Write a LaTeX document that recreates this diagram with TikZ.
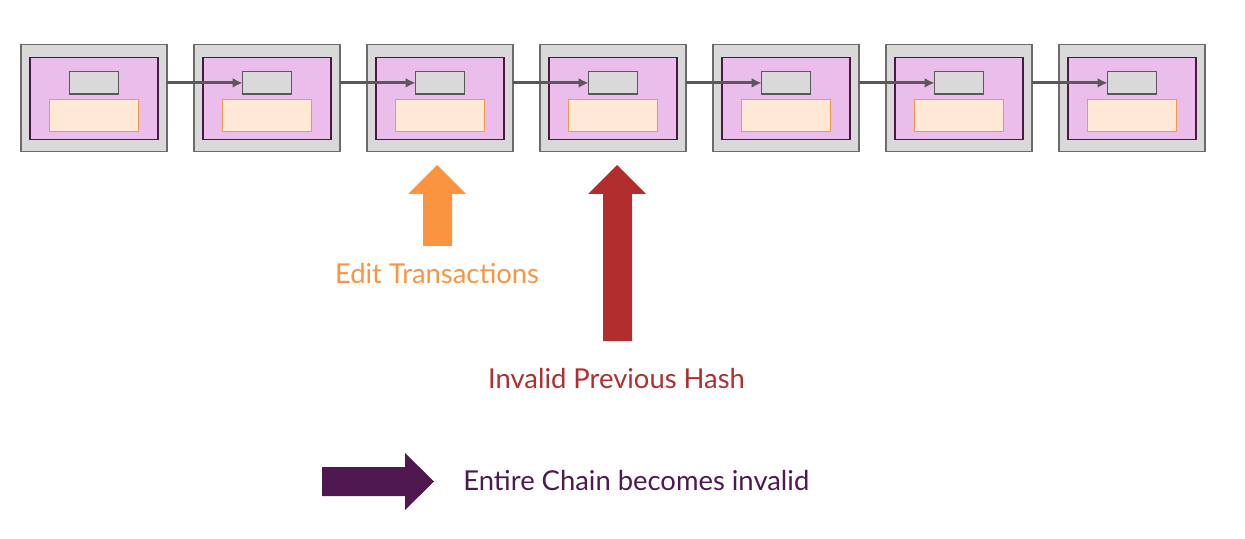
\documentclass[tikz,border=0pt]{standalone}
\usepackage{fontspec}
\setmainfont{Lato}
\usetikzlibrary{arrows.meta}
\definecolor{blockgray}{HTML}{D9D9D9}
\definecolor{blockedge}{HTML}{6B6B6B}
\definecolor{headpink}{HTML}{EBBDEB}
\definecolor{headedge}{HTML}{4A1942}
\definecolor{txpeach}{HTML}{FFE8D6}
\definecolor{txedge}{HTML}{F79646}
\definecolor{linkgray}{HTML}{595959}
\definecolor{editorange}{HTML}{FB9440}
\definecolor{hashred}{HTML}{B22E2E}
\definecolor{chainpurple}{HTML}{4F1850}
\tikzset{
  blockbox/.style={draw=blockedge,fill=blockgray,line width=0.75pt,minimum width=73pt,minimum height=53.5pt,inner sep=0pt,outer sep=0pt},
  headbox/.style={draw=headedge,fill=headpink,line width=0.6pt,minimum width=64pt,minimum height=41pt,inner sep=0pt,outer sep=0pt},
  prevbox/.style={draw=linkgray,fill=blockgray,line width=0.6pt,minimum width=24.5pt,minimum height=11.2pt,inner sep=0pt,outer sep=0pt},
  txbox/.style={draw=txedge,fill=txpeach,line width=0.6pt,minimum width=44.5pt,minimum height=16pt,inner sep=0pt,outer sep=0pt},
  link/.style={draw=linkgray,line width=1.5pt,-{Latex[length=5pt,width=5pt]}},
  label/.style={inner sep=0pt,font=\fontsize{13.7}{16}\selectfont}
}
\begin{document}
\begin{tikzpicture}[x=0.5pt,y=-0.5pt]
\useasboundingbox (0,0) rectangle (1245,539);
% the chain of blocks
\foreach \i in {1,...,7} {
  \pgfmathsetmacro\cx{94+173*(\i-1)}
  \node [blockbox] (B\i) at (\cx,98) {};
  \node [headbox] (H\i) at (\cx,98.2) {};
  \node [prevbox] (P\i) at (\cx,82.9) {};
  \node [txbox] (T\i) at (\cx,115.3) {};
}
\foreach \i [evaluate=\i as \j using int(\i+1)] in {1,...,6}
  \draw [link] (B\i.east |- P\j) -- (P\j.west);
% big arrows
\fill [editorange] (437,165) -- (466,194) -- (452,194) -- (452,246) -- (423,246) -- (423,194) -- (408,194) -- cycle;
\fill [hashred] (617,165) -- (646,194) -- (632,194) -- (632,341) -- (603,341) -- (603,194) -- (588,194) -- cycle;
\fill [chainpurple] (322,467) -- (405,467) -- (405,453) -- (434,481.5) -- (405,510) -- (405,496) -- (322,496) -- cycle;
% labels
\node [label,text=editorange] (edit) at (437,274) {Edit Transactions};
\node [label,text=hashred] (hash) at (616.5,379) {Invalid Previous Hash};
\node [label,text=chainpurple,anchor=west] (chain) at (463,481) {Entire Chain becomes invalid};
\end{tikzpicture}
\end{document}
